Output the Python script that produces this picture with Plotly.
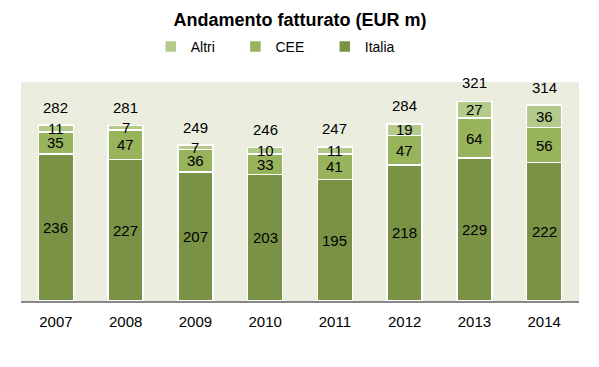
import plotly.graph_objects as go

years = ["2007", "2008", "2009", "2010", "2011", "2012", "2013", "2014"]
italia = [236, 227, 207, 203, 195, 218, 229, 222]
cee = [35, 47, 36, 33, 41, 47, 64, 56]
altri = [11, 7, 7, 10, 11, 19, 27, 36]
totals = [282, 281, 249, 246, 247, 284, 321, 314]

c_italia = "#7A9245"
c_cee = "#97B35B"
c_altri = "#B3CA8B"
font_main = "Liberation Sans, Arial, sans-serif"
pad = "\u00a0" * 4

xpos = list(range(len(years)))

fig = go.Figure()
for name, vals, col in [("Italia", italia, c_italia), ("CEE", cee, c_cee), ("Altri", altri, c_altri)]:
    fig.add_trace(go.Bar(
        x=xpos, y=vals, name=name + pad, width=0.5,
        marker=dict(color=col, line=dict(color="white", width=1.5)),
        hovertext=years, hoverinfo="text+y",
    ))

ann = []
for i in xpos:
    base = 0
    for vals in (italia, cee, altri):
        ann.append(dict(x=i, y=base + vals[i] / 2, text=str(vals[i]), showarrow=False,
                        font=dict(size=15, color="black", family=font_main)))
        base += vals[i]
    ann.append(dict(x=i, y=totals[i], text=str(totals[i]), showarrow=False, yshift=18,
                    font=dict(size=15, color="black", family=font_main)))

fig.update_layout(
    width=599, height=367,
    barmode="stack",
    paper_bgcolor="white", plot_bgcolor="#EBEEDF",
    margin=dict(l=13, r=28, t=74, b=74, autoexpand=False),
    title=dict(text="<b>Andamento fatturato (EUR m)</b>", x=0.5, xanchor="center",
               xref="paper", y=0.967, yanchor="middle",
               font=dict(size=18, color="black", family="Liberation Sans Narrow, Arial Narrow, Liberation Sans, sans-serif")),
    legend=dict(orientation="h", x=0.47, xanchor="center", y=1.16, yanchor="middle",
                itemwidth=30, traceorder="reversed",
                font=dict(size=14, color="black", family=font_main)),
    annotations=ann,
    showlegend=True,
)
fig.update_xaxes(range=[-0.5, len(years) - 0.5], tickvals=xpos, ticktext=years,
                 showline=True, linecolor="#888888", linewidth=1.5, ticks="", zeroline=False,
                 ticklabelstandoff=6,
                 tickfont=dict(size=15, color="black", family=font_main), showgrid=False)
fig.update_yaxes(range=[0, 351], visible=False, showgrid=False, zeroline=False)

fig.write_html("out.html")
